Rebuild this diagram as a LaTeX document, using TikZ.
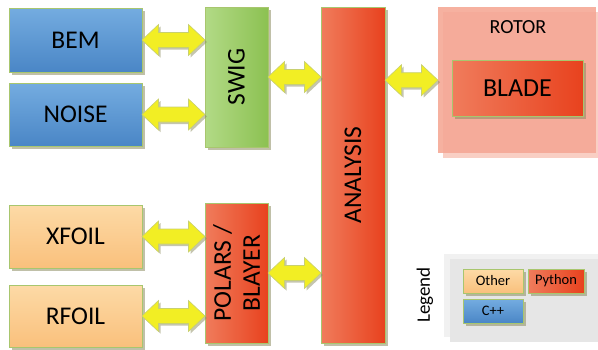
\documentclass[tikz,border=0pt]{standalone}
\usepackage{fontspec}
\setmainfont{Carlito}
\usetikzlibrary{shadows,calc}
\definecolor{bluetop}{HTML}{74ACE0}
\definecolor{bluebot}{HTML}{4A86C6}
\definecolor{orgtop}{HTML}{FDDAA6}
\definecolor{orgbot}{HTML}{F9C07C}
\definecolor{redl}{HTML}{F07C5C}
\definecolor{redr}{HTML}{E8421E}
\definecolor{grnl}{HTML}{B2DA86}
\definecolor{grnr}{HTML}{8CC152}
\definecolor{edgec}{HTML}{A8C66E}
\definecolor{arrfill}{HTML}{F2EE24}
\definecolor{arredge}{HTML}{C8D070}
\definecolor{shad}{HTML}{8C8C60}
\definecolor{rotorc}{HTML}{F5A896}
\definecolor{rotorl}{HTML}{F9CFC4}
\definecolor{legc}{HTML}{E6E6E6}
\definecolor{legl}{HTML}{F1F1F1}
\tikzset{
  box/.style={draw=edgec, line width=0.7pt, anchor=north west, inner sep=0pt, outer sep=0pt,
    drop shadow={shadow xshift=2.5pt, shadow yshift=-2.5pt, fill=shad, opacity=0.55}},
  cpp/.style={box, top color=bluetop, bottom color=bluebot},
  other/.style={box, top color=orgtop, bottom color=orgbot},
  python/.style={box, left color=redl, right color=redr},
  swigc/.style={box, left color=grnl, right color=grnr},
  big/.style={font=\fontsize{25.5}{29}\selectfont},
  small/.style={font=\fontsize{14.5}{16}\selectfont},
  arr/.style={draw=arredge, fill=arrfill, line width=0.6pt, line join=miter,
    drop shadow={shadow xshift=2pt, shadow yshift=-2pt, fill=shad, opacity=0.5}}
}
\newcommand\dblarr[3]{%
  \coordinate (A) at (#1.east |- #3.center);
  \coordinate (B) at (#2.west |- #3.center);
  \draw[arr] (A) -- ($(A)+(16.5,-15.5)$) -- ($(A)+(16.5,-7.5)$) -- ($(B)+(-16.5,-7.5)$)
    -- ($(B)+(-16.5,-15.5)$) -- (B) -- ($(B)+(-16.5,15.5)$) -- ($(B)+(-16.5,7.5)$)
    -- ($(A)+(16.5,7.5)$) -- ($(A)+(16.5,15.5)$) -- cycle;
}
\begin{document}
\begin{tikzpicture}[x=1pt,y=-1pt]
\useasboundingbox (0,0) rectangle (598,349);
% rotor container
\fill[rotorl] (443,12) rectangle (598,158);
\fill[rotorc, opacity=0.9] (438,7) rectangle (596,153);
\node[anchor=north west, inner sep=0pt, minimum width=158pt, minimum height=146pt] (rotor) at (438,7) {};
\node[font=\fontsize{20}{22}\selectfont] (rotort) at (518,27) {ROTOR};
% legend container
\fill[legl] (444,254) rectangle (598,337);
\fill[legc] (450,259) rectangle (598,342);
\node[rotate=90, font=\fontsize{19}{21}\selectfont] (legt) at (425,295) {Legend};
% boxes
\node[cpp, minimum width=133pt, minimum height=64pt, big] (bem) at (9,8) {BEM};
\node[cpp, minimum width=133pt, minimum height=63pt, big] (noise) at (9,83) {NOISE};
\node[other, minimum width=133pt, minimum height=63pt, big] (xfoil) at (9,205) {XFOIL};
\node[other, minimum width=133pt, minimum height=62pt, big] (rfoil) at (9,285) {RFOIL};
\node[swigc, minimum width=63pt, minimum height=140pt] (swig) at (205,7) {};
\node[rotate=90, big] (swigt) at (swig.center) {SWIG};
\node[python, minimum width=63pt, minimum height=140pt] (polars) at (205,203) {};
\node[rotate=90, big, align=center] (polarst) at (polars.center) {POLARS /\\BLAYER};
\node[python, minimum width=64pt, minimum height=336pt] (analysis) at (321,7) {};
\node[rotate=90, big] (analysist) at (analysis.center) {ANALYSIS};
\node[python, minimum width=131pt, minimum height=56pt, font=\fontsize{26}{29}\selectfont] (blade) at (452,60) {BLADE};
% legend items
\node[other, minimum width=60pt, minimum height=24pt, small] (lo) at (463,269) {Other};
\node[python, minimum width=56pt, minimum height=24pt, small] (lp) at (528,269) {Python};
\node[cpp, minimum width=60pt, minimum height=24pt, small] (lc) at (463,299) {C++};
% arrows
\dblarr{bem}{swig}{bem}
\dblarr{noise}{swig}{noise}
\dblarr{xfoil}{polars}{xfoil}
\dblarr{rfoil}{polars}{rfoil}
\dblarr{swig}{analysis}{swig}
\dblarr{polars}{analysis}{polars}
\dblarr{analysis}{rotor}{rotor}
\end{tikzpicture}
\end{document}
